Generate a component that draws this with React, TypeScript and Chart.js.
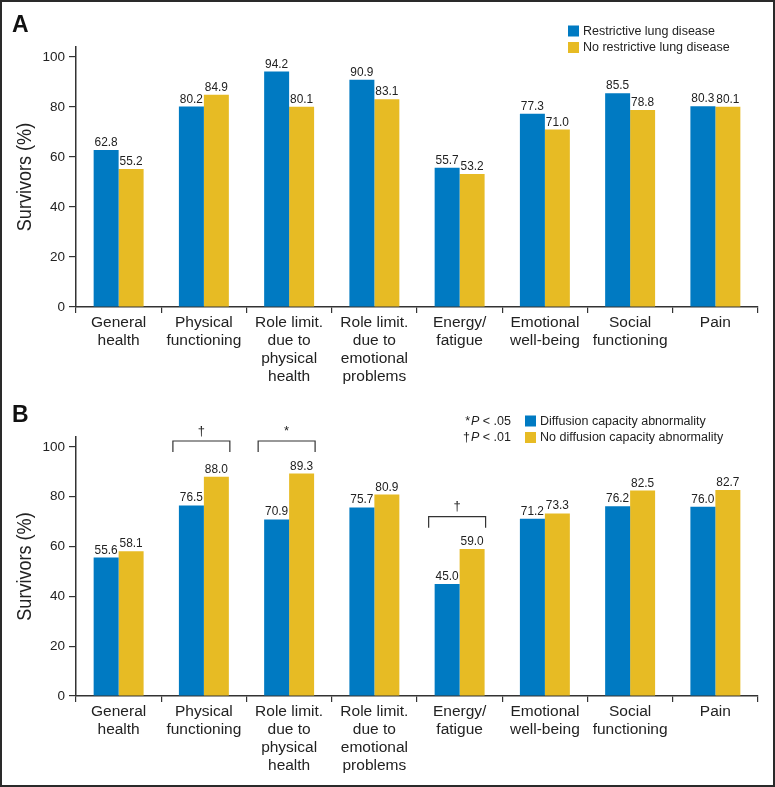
import React, { useEffect, useRef } from 'react';
import { Chart, registerables } from 'chart.js';
Chart.register(...registerables);

const categories = [
  ['General', 'health'],
  ['Physical', 'functioning'],
  ['Role limit.', 'due to', 'physical', 'health'],
  ['Role limit.', 'due to', 'emotional', 'problems'],
  ['Energy/', 'fatigue'],
  ['Emotional', 'well-being'],
  ['Social', 'functioning'],
  ['Pain'],
];
const restrictive = [62.8, 80.2, 94.2, 90.9, 55.7, 77.3, 85.5, 80.3];
const noRestrictive = [55.2, 84.9, 80.1, 83.1, 53.2, 71.0, 78.8, 80.1];
const diffusion = [55.6, 76.5, 70.9, 75.7, 45.0, 71.2, 76.2, 76.0];
const noDiffusion = [58.1, 88.0, 89.3, 80.9, 59.0, 73.3, 82.5, 82.7];
const yTicks = [0, 20, 40, 60, 80, 100];
const yTitle = 'Survivors (%)';
const namesA = ['Restrictive lung disease', 'No restrictive lung disease'];
const namesB = ['Diffusion capacity abnormality', 'No diffusion capacity abnormality'];
const bracketCategories = [1, 2, 4];
const bracketSymbols = ['\u2020', '*', '\u2020'];
const bracketLevels = [102.4, 102.4, 72];
const noteSymbols = ['*', '\u2020'];
const noteValues = [' < .05', ' < .01'];

const FONT = '"Liberation Sans", Arial, Helvetica, sans-serif';
const BLUE = 'rgb(0,122,194)';
const YELLOW = 'rgb(231,187,36)';
const INK = '#222';

type PanelProps = {
  letter: string;
  seriesA: number[];
  seriesB: number[];
  names: string[];
  height: number;
  plotBottom: number;
  legendX: number;
  withNotes: boolean;
  withBrackets: boolean;
};

function Panel(p: PanelProps) {
  const ref = useRef<HTMLCanvasElement>(null);
  useEffect(() => {
    const canvas = ref.current!;
    const overlay = {
      id: 'overlay',
      afterDatasetsDraw(chart: any) {
        const ctx = chart.ctx;
        ctx.save();
        // value labels (slightly condensed)
        ctx.fillStyle = INK;
        chart.data.datasets.forEach((ds: any, i: number) => {
          const meta = chart.getDatasetMeta(i);
          meta.data.forEach((bar: any, j: number) => {
            ctx.save();
            ctx.translate(bar.x, bar.y - 4);
            ctx.scale(0.88, 1);
            ctx.font = `13.5px ${FONT}`;
            ctx.textAlign = 'center';
            ctx.textBaseline = 'alphabetic';
            ctx.fillText(Number(ds.data[j]).toFixed(1), 0, 0);
            ctx.restore();
          });
        });
        // brackets
        if (p.withBrackets) {
          const yScale = chart.scales.y;
          const m0 = chart.getDatasetMeta(0);
          const m1 = chart.getDatasetMeta(1);
          ctx.strokeStyle = '#333';
          ctx.lineWidth = 1.2;
          ctx.textAlign = 'center';
          bracketCategories.forEach((c, k) => {
            const b0 = m0.data[c];
            const b1 = m1.data[c];
            const left = b0.x - b0.width / 2 - 6;
            const right = b1.x + b1.width / 2 + 1;
            const top = yScale.getPixelForValue(bracketLevels[k]);
            ctx.beginPath();
            ctx.moveTo(left, top + 11);
            ctx.lineTo(left, top);
            ctx.lineTo(right, top);
            ctx.lineTo(right, top + 11);
            ctx.stroke();
            ctx.textBaseline = 'middle';
            ctx.font = `13px ${FONT}`;
            ctx.fillText(bracketSymbols[k], (left + right) / 2, top - 10);
          });
        }
        // y-axis title (condensed)
        const ca = chart.chartArea;
        ctx.save();
        ctx.translate(25, (ca.top + ca.bottom) / 2);
        ctx.rotate(-Math.PI / 2);
        ctx.scale(0.86, 1);
        ctx.font = `21px ${FONT}`;
        ctx.fillStyle = INK;
        ctx.textAlign = 'center';
        ctx.textBaseline = 'middle';
        ctx.fillText(yTitle, 0, 0);
        ctx.restore();
        // panel letter
        ctx.textAlign = 'left';
        ctx.textBaseline = 'alphabetic';
        ctx.font = `bold 23px ${FONT}`;
        ctx.fillStyle = '#111';
        ctx.fillText(p.letter, 12, 32);
        // legend
        const rows = [31, 47.5];
        chart.data.datasets.forEach((ds: any, i: number) => {
          ctx.fillStyle = ds.backgroundColor;
          ctx.fillRect(p.legendX, rows[i] - 5.5, 11, 11);
          ctx.fillStyle = INK;
          ctx.font = `12.5px ${FONT}`;
          ctx.textBaseline = 'middle';
          ctx.textAlign = 'left';
          ctx.fillText(ds.label, p.legendX + 15, rows[i] + 0.5);
        });
        // notes
        if (p.withNotes) {
          noteSymbols.forEach((sym, i) => {
            const y = rows[i] + 0.5;
            let x = p.legendX - 14;
            ctx.textAlign = 'right';
            ctx.textBaseline = 'middle';
            ctx.font = `12.5px ${FONT}`;
            ctx.fillText(noteValues[i], x, y);
            x -= ctx.measureText(noteValues[i]).width;
            ctx.font = `italic 12.5px ${FONT}`;
            ctx.fillText('P', x, y);
            x -= ctx.measureText('P').width + 1;
            ctx.font = `12.5px ${FONT}`;
            ctx.fillText(sym, x, y);
          });
        }
        ctx.restore();
      },
    };
    const chart = new Chart(canvas, {
      type: 'bar',
      data: {
        labels: categories as any,
        datasets: [
          { label: p.names[0], data: p.seriesA, backgroundColor: BLUE, borderWidth: 0, categoryPercentage: 0.586, barPercentage: 1 },
          { label: p.names[1], data: p.seriesB, backgroundColor: YELLOW, borderWidth: 0, categoryPercentage: 0.586, barPercentage: 1 },
        ],
      },
      options: {
        responsive: false,
        animation: false,
        devicePixelRatio: 1,
        layout: { padding: { top: 47, right: 17, left: 0, bottom: 0 } },
        plugins: { legend: { display: false }, tooltip: { enabled: false } },
        scales: {
          x: {
            grid: { display: true, drawOnChartArea: false, offset: true, tickLength: 6, color: '#333', lineWidth: 1.2 },
            border: { display: true, color: '#333', width: 1.5 },
            ticks: {
              autoSkip: false,
              maxRotation: 0,
              minRotation: 0,
              padding: 1,
              color: INK,
              font: { family: FONT, size: 15.5, lineHeight: 1.15 },
            },
            afterFit: (s: any) => {
              s.height = p.height - p.plotBottom;
            },
          },
          y: {
            min: 0,
            max: 104,
            afterBuildTicks: (s: any) => {
              s.ticks = yTicks.map((v) => ({ value: v }));
            },
            grid: { display: true, drawOnChartArea: false, tickLength: 7, color: '#333', lineWidth: 1.2 },
            border: { display: true, color: '#333', width: 1.5 },
            ticks: { padding: 4, color: INK, font: { family: FONT, size: 13.5 } },
            title: { display: false },
            afterFit: (s: any) => {
              s.width = 76;
            },
          },
        },
      },
      plugins: [overlay],
    } as any);
    return () => chart.destroy();
  }, []);
  return <canvas ref={ref} width={775} height={p.height} style={{ display: 'block', width: 775, height: p.height }} />;
}

export default function App() {
  return (
    <div style={{ position: 'absolute', left: 0, top: 0, width: 775, height: 787, background: '#fff', overflow: 'hidden' }}>
      <div style={{ position: 'absolute', left: 0, top: 0 }}>
        <Panel letter="A" seriesA={restrictive} seriesB={noRestrictive} names={namesA} height={390} plotBottom={307} legendX={568} withNotes={false} withBrackets={false} />
      </div>
      <div style={{ position: 'absolute', left: 0, top: 390 }}>
        <Panel letter="B" seriesA={diffusion} seriesB={noDiffusion} names={namesB} height={397} plotBottom={306} legendX={525} withNotes={true} withBrackets={true} />
      </div>
      <div style={{ position: 'absolute', left: 0, top: 0, width: 775, height: 787, boxSizing: 'border-box', border: '2px solid #2a2a2a', pointerEvents: 'none' }} />
    </div>
  );
}
